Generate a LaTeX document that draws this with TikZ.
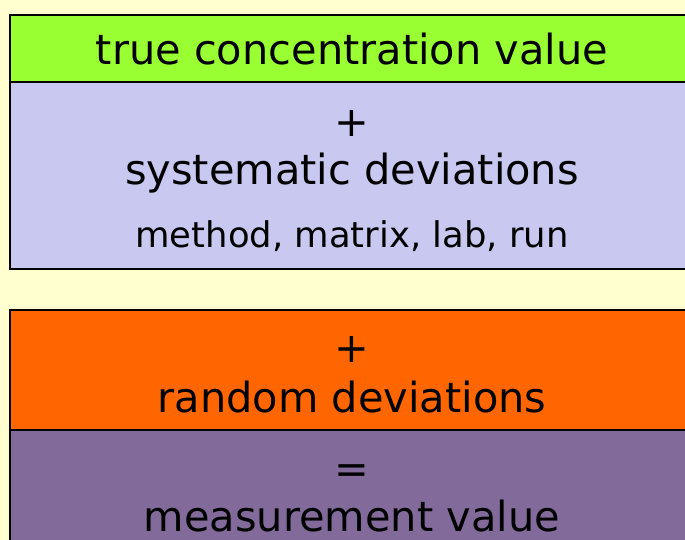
\documentclass[tikz,border=0pt]{standalone}
\usepackage{fontspec}
\setmainfont{DejaVu Sans}
\definecolor{bgyellow}{RGB}{255,255,208}
\definecolor{boxgreen}{RGB}{153,255,51}
\definecolor{boxlav}{RGB}{200,200,240}
\definecolor{boxorange}{RGB}{255,102,0}
\definecolor{boxpurple}{RGB}{130,106,154}
\begin{document}
\begin{tikzpicture}[x=1pt,y=-1pt,
  panel/.style={draw=black,line width=2pt},
  bigtxt/.style={anchor=base,inner sep=0pt,font=\fontsize{41.5}{48}\selectfont},
  smalltxt/.style={anchor=base,inner sep=0pt,font=\fontsize{35.4}{42}\selectfont}]
\useasboundingbox (0,0) rectangle (685,540);
\fill[bgyellow] (0,0) rectangle (685,540);
% boxes
\filldraw[panel,fill=boxlav] (10,82) rectangle (700,269);
\filldraw[panel,fill=boxgreen] (10,15) rectangle (700,82);
\filldraw[panel,fill=boxpurple] (10,430) rectangle (700,560);
\filldraw[panel,fill=boxorange] (10,310) rectangle (700,430);
% texts
\node[bigtxt] (t1) at (352,65) {true concentration value};
\node[bigtxt] (p1) at (352,137) {+};
\node[bigtxt] (t2) at (352,185) {systematic deviations};
\node[smalltxt] (t3) at (352,247) {method, matrix, lab, run};
\node[bigtxt] (p2) at (352,362) {+};
\node[bigtxt] (t4) at (352,412) {random deviations};
\node[bigtxt] (e1) at (352,483) {=};
\node[bigtxt,text depth=0pt] (t5) at (352,531) {measurement value};
\end{tikzpicture}
\end{document}
